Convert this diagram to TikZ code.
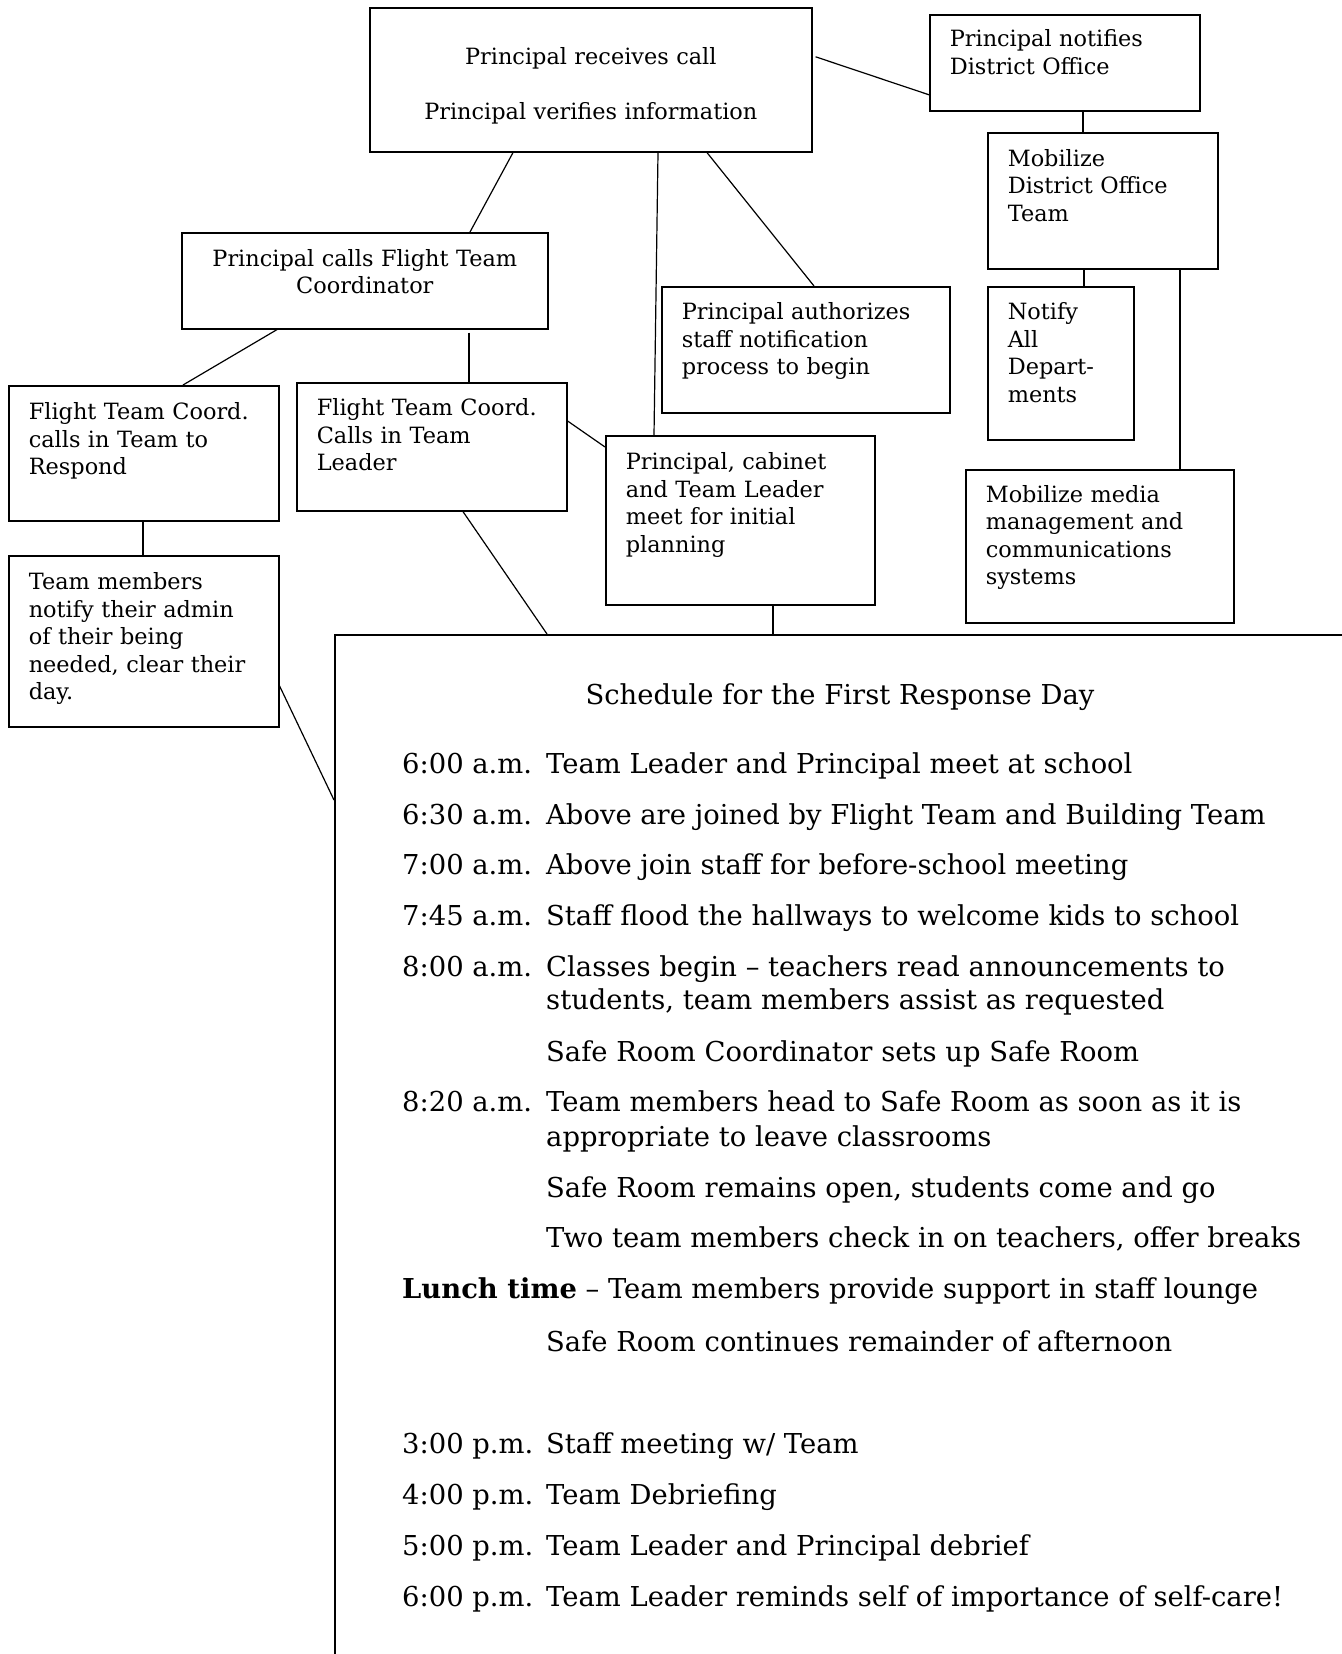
\documentclass[tikz,border=0pt]{standalone}
\usepackage{fontspec}
\setmainfont{DejaVu Serif}
\tikzstyle{flow_box}=[draw=black, line width=1.6pt, anchor=north west,
    inner xsep=20pt, inner ysep=0pt, align=left, text height=33pt,
    font=\fontsize{22.4}{27.5}\selectfont]
\tikzstyle{flow_center}=[flow_box, align=center]
\tikzstyle{sched_text}=[anchor=base west, inner sep=0pt,
    font=\fontsize{27.4}{34}\selectfont]
\tikzstyle{link}=[draw=black, line width=1.2pt]

\begin{document}
\begin{tikzpicture}[x=1pt, y=-1pt]
\useasboundingbox (0,0) rectangle (1341,1654);
% boxes of the call tree
\node[flow_center, text width=402pt, text height=57pt, text depth=87pt] (call) at (369,7)
  {Principal receives call\\[27.5pt]Principal verifies information};
\node[flow_box, text width=230pt, text height=32pt, text depth=64pt] (notify) at (929,14)
  {Principal notifies\\District Office};
\node[flow_box, text width=190pt, text height=33.5pt, text depth=102.5pt] (mobilize) at (987,132)
  {Mobilize\\District Office\\Team};
\node[flow_box, text width=106pt, text depth=120pt] (alldept) at (987,286)
  {Notify\\All\\Depart-\\ments};
\node[flow_box, text width=248pt, text depth=93pt] (authorize) at (661,286)
  {Principal authorizes\\staff notification\\process to begin};
\node[flow_box, text width=228pt, text height=32.5pt, text depth=120.5pt] (media) at (965,469)
  {Mobilize media\\management and\\communications\\systems};
\node[flow_center, text width=326pt, text height=33.5pt, text depth=62.5pt] (coord) at (181,232)
  {Principal calls Flight Team\\Coordinator};
\node[flow_box, text width=230pt, text height=34pt, text depth=101pt] (respond) at (8,385)
  {Flight Team Coord.\\calls in Team to\\Respond};
\node[flow_box, text width=230pt, text depth=95pt] (leader) at (296,382)
  {Flight Team Coord.\\Calls in Team\\Leader};
\node[flow_box, text width=229pt, text height=34pt, text depth=135pt] (cabinet) at (605,435)
  {Principal, cabinet\\and Team Leader\\meet for initial\\planning};
\node[flow_box, text width=230pt, text height=34pt, text depth=137pt] (members) at (8,555)
  {Team members\\notify their admin\\of their being\\needed, clear their\\day.};
\node[draw=black, line width=1.6pt, anchor=north west, inner sep=0pt,
  minimum width=1200pt, minimum height=1200pt] (sched) at (334,634) {};
% schedule
\node[sched_text, anchor=base] (title) at (840,704) {Schedule for the First Response Day};
\node[sched_text] (t1) at (402,773) {6:00 a.m.};
\node[sched_text] (d1) at (546,773) {Team Leader and Principal meet at school};
\node[sched_text] (t2) at (402,824) {6:30 a.m.};
\node[sched_text] (d2) at (546,824) {Above are joined by Flight Team and Building Team};
\node[sched_text] (t3) at (402,874) {7:00 a.m.};
\node[sched_text] (d3) at (546,874) {Above join staff for before-school meeting};
\node[sched_text] (t4) at (402,925) {7:45 a.m.};
\node[sched_text] (d4) at (546,925) {Staff flood the hallways to welcome kids to school};
\node[sched_text] (t5) at (402,976) {8:00 a.m.};
\node[sched_text] (d5) at (546,976) {Classes begin – teachers read announcements to};
\node[sched_text] (d5b) at (546,1009) {students, team members assist as requested};
\node[sched_text] (d6) at (546,1061) {Safe Room Coordinator sets up Safe Room};
\node[sched_text] (t7) at (402,1111) {8:20 a.m.};
\node[sched_text] (d7) at (546,1111) {Team members head to Safe Room as soon as it is};
\node[sched_text] (d7b) at (546,1146) {appropriate to leave classrooms};
\node[sched_text] (d8) at (546,1197) {Safe Room remains open, students come and go};
\node[sched_text] (d9) at (546,1247) {Two team members check in on teachers, offer breaks};
\node[sched_text] (lunch) at (402,1298) {\textbf{Lunch time} – Team members provide support in staff lounge};
\node[sched_text] (d10) at (546,1351) {Safe Room continues remainder of afternoon};
\node[sched_text] (t11) at (402,1453) {3:00 p.m.};
\node[sched_text] (d11) at (546,1453) {Staff meeting w/ Team};
\node[sched_text] (t12) at (402,1504) {4:00 p.m.};
\node[sched_text] (d12) at (546,1504) {Team Debriefing};
\node[sched_text] (t13) at (402,1555) {5:00 p.m.};
\node[sched_text] (d13) at (546,1555) {Team Leader and Principal debrief};
\node[sched_text] (t14) at (402,1606) {6:00 p.m.};
\node[sched_text] (d14) at (546,1606) {Team Leader reminds self of importance of self-care!};
% connectors
\draw[link] ([xshift=3pt,yshift=23pt]call.east) -- ([yshift=-32pt]notify.west);
\draw[link] ([xshift=144pt]call.south west) -- ([xshift=289pt]coord.north west);
\draw[link] ([xshift=289pt]call.south west) -- ([xshift=49pt]cabinet.north west);
\draw[link] ([xshift=338pt]call.south west) -- ([xshift=153pt]authorize.north west);
\draw[link] ([xshift=154pt]notify.south west) -- ([xshift=96pt]mobilize.north west);
\draw[link] ([xshift=97pt]mobilize.south west) -- ([xshift=97pt]alldept.north west);
\draw[link] ([xshift=193pt]mobilize.south west) -- ([xshift=215pt]media.north west);
\draw[link] ([xshift=96pt]coord.south west) -- ([xshift=175pt]respond.north west);
\draw[link] ([xshift=288pt,yshift=-3pt]coord.south west) -- ([xshift=173pt]leader.north west);
\draw[link] ([yshift=-39pt]leader.north east) -- ([yshift=-12pt]cabinet.north west);
\draw[link] ([xshift=167pt]leader.south west) -- ([xshift=213pt]sched.north west);
\draw[link] ([xshift=135pt]respond.south west) -- ([xshift=135pt]members.north west);
\draw[link] ([yshift=-131pt]members.north east) -- ([yshift=-166pt]sched.north west);
\draw[link] ([xshift=168pt]cabinet.south west) -- ([xshift=439pt]sched.north west);
\end{tikzpicture}
\end{document}
